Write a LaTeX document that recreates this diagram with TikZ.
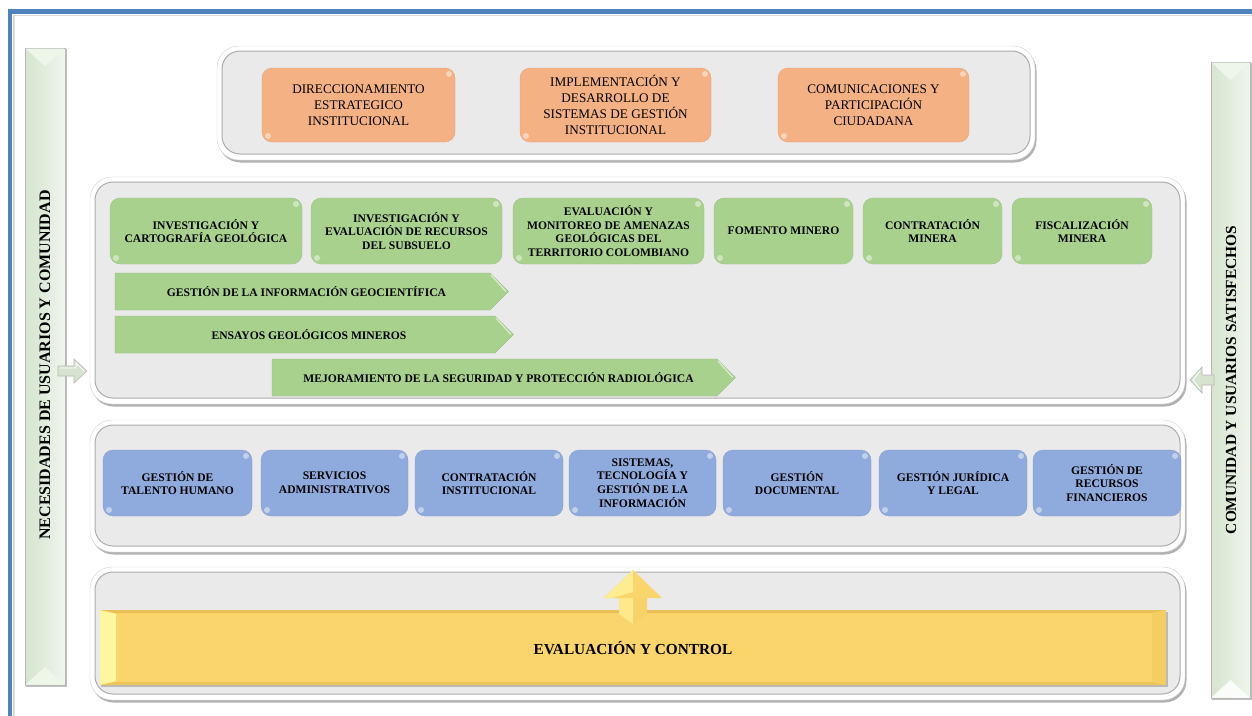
\documentclass[tikz,border=0pt]{standalone}
\usepackage{fontspec}
\setmainfont{Liberation Serif}
\usetikzlibrary{calc}

\definecolor{frameblue}{HTML}{4F81BD}
\definecolor{panelgray}{HTML}{EAEAEA}
\definecolor{orangebox}{HTML}{F4B183}
\definecolor{greenbox}{HTML}{A9D18E}
\definecolor{bluebox}{HTML}{8FAADC}
\definecolor{yellowbar}{HTML}{F9D56B}
\definecolor{yellowlight}{HTML}{FFF6A0}
\definecolor{yellowdark}{HTML}{E8C055}
\definecolor{sidegreen}{HTML}{D6E4CF}
\definecolor{sidegreenlight}{HTML}{EEF6EA}

% rounded grey panel with a white rim and a soft shadow
\newcommand{\panelframe}[5]{%
  \fill[gray!60, rounded corners=22pt] (#2+1.5,#3+2.5) rectangle (#4+1.5,#5+2.5);
  \draw[gray!35, fill=white, rounded corners=22pt] (#2,#3) rectangle (#4,#5);
  \draw[gray!65, line width=1pt, fill=panelgray, rounded corners=18pt] (#2+5,#3+5) rectangle (#4-5,#5-6);
  \coordinate (#1) at ($(#2,#3)!0.5!(#4,#5)$);
}

% pentagon arrow band with its label
\newcommand{\band}[6]{% name, x1, y1, x2 (shoulder), y2, text
  \path[fill=greenbox, draw=greenbox!85!black, line width=0.3pt]
    (#2,#3) -- (#4,#3) -- (#4+18.5,{(#3+#5)/2}) -- (#4,#5) -- (#2,#5) -- cycle;
  \draw[white, opacity=0.55, line width=1.4pt] (#4+1,#3+2) -- (#4+16,{(#3+#5)/2});
  \node[bandtext] (#1) at ({(#2+#4)/2+4},{(#3+#5)/2}) {#6};
}

\tikzset{
  gloss/.style={path picture={
      \fill[white, opacity=0.45] ($(path picture bounding box.north east)+(-6pt,-6pt)$) circle (3pt);
      \fill[white, opacity=0.45] ($(path picture bounding box.south west)+(6pt,6pt)$) circle (3pt);
    }},
  procbox/.style={rounded corners=10pt, align=center, inner sep=2pt, gloss,
    font=\bfseries\fontsize{11.6}{13.8}\selectfont},
  obox/.style={procbox, fill=orangebox, draw=orangebox!90!black, line width=0.3pt,
    font=\fontsize{13.2}{16}\selectfont, minimum height=74pt},
  gbox/.style={procbox, fill=greenbox, draw=greenbox!90!black, line width=0.3pt, minimum height=66pt},
  bbox/.style={procbox, fill=bluebox, draw=bluebox!90!black, line width=0.3pt, minimum height=66pt},
  bandtext/.style={font=\bfseries\fontsize{11.6}{13}\selectfont, inner sep=0pt},
  sidetext/.style={rotate=90, font=\bfseries\fontsize{16}{18}\selectfont},
}

\begin{document}
\begin{tikzpicture}[x=1pt, y=-1pt]
\useasboundingbox (0,0) rectangle (1252,715);
\fill[white] (0,0) rectangle (1252,715);

% page frame
\draw[gray!30, line width=1.5pt] (14,720) -- (14,15.5) -- (1260,15.5);
\draw[frameblue, line width=4.5pt] (10,720) -- (10,11.5) -- (1260,11.5);

% side bars
\fill[gray!50] (26,49) rectangle (67,687);
\shade[left color=sidegreen, right color=sidegreenlight, draw=gray!55] (25,48) rectangle (65,685);
\fill[sidegreenlight] (25.5,48.5) -- (64.5,48.5) -- (45,66) -- cycle;
\fill[sidegreenlight] (25.5,684.5) -- (64.5,684.5) -- (45,667) -- cycle;
\node[sidetext] (needs) at (45,365) {NECESIDADES DE USUARIOS Y COMUNIDAD};

\fill[gray!50] (1212,63) rectangle (1252,700);
\shade[left color=sidegreen, right color=sidegreenlight, draw=gray!55] (1211,62) rectangle (1250,698);
\fill[sidegreenlight] (1211.5,62.5) -- (1249.5,62.5) -- (1230.5,80) -- cycle;
\fill[white!70!sidegreenlight] (1211.5,697.5) -- (1249.5,697.5) -- (1230.5,680) -- cycle;
\node[sidetext, font=\bfseries\fontsize{15.4}{18}\selectfont] (satisfied) at (1231,380) {COMUNIDAD Y USUARIOS SATISFECHOS};

% panels
\panelframe{strategic}{217}{46}{1035}{160}
\panelframe{mission}{90}{177}{1185}{404}
\panelframe{support}{90}{420}{1185}{552}
\panelframe{control}{90}{567}{1185}{700}

% flow arrows at the sides
\draw[gray!55, fill=sidegreen, line width=0.6pt]
  (58,366) -- (74,366) -- (74,359) -- (87,371) -- (74,383) -- (74,376) -- (58,376) -- cycle;
\draw[white, line width=0.8pt] (60,368) -- (76,368) -- (76,363) -- (84,371);
\draw[gray!55, fill=sidegreen, line width=0.6pt]
  (1214,375) -- (1202,375) -- (1202,367) -- (1190,380) -- (1202,393) -- (1202,385) -- (1214,385) -- cycle;
\draw[white, line width=0.8pt] (1200,371) -- (1193,380) -- (1200,389);

% strategic processes
\node[obox, minimum width=193pt] (dir) at (358.5,105) {DIRECCIONAMIENTO\\ESTRATEGICO\\INSTITUCIONAL};
\node[obox, minimum width=191pt] (impl) at (615.5,105) {IMPLEMENTACIÓN Y\\DESARROLLO DE\\SISTEMAS DE GESTIÓN\\INSTITUCIONAL};
\node[obox, minimum width=191pt] (com) at (873.5,105) {COMUNICACIONES Y\\PARTICIPACIÓN\\CIUDADANA};

% mission processes
\node[gbox, minimum width=192pt] (carto) at (206,231) {INVESTIGACIÓN Y\\CARTOGRAFÍA GEOLÓGICA};
\node[gbox, minimum width=191pt] (recursos) at (406.5,231) {INVESTIGACIÓN Y\\EVALUACIÓN DE RECURSOS\\DEL SUBSUELO};
\node[gbox, minimum width=191pt] (amenazas) at (608.5,231) {EVALUACIÓN Y\\MONITOREO DE AMENAZAS\\GEOLÓGICAS DEL\\TERRITORIO COLOMBIANO};
\node[gbox, minimum width=139pt] (fomento) at (783.5,231) {FOMENTO MINERO};
\node[gbox, minimum width=139pt] (contratmin) at (932.5,231) {CONTRATACIÓN\\MINERA};
\node[gbox, minimum width=140pt] (fiscal) at (1082,231) {FISCALIZACIÓN\\MINERA};

\band{geoinfo}{115}{273}{490}{310}{GESTIÓN DE LA INFORMACIÓN GEOCIENTÍFICA}
\band{ensayos}{115}{316}{495}{353}{ENSAYOS GEOLÓGICOS MINEROS}
\band{radio}{272}{359}{717}{396}{MEJORAMIENTO DE LA SEGURIDAD Y PROTECCIÓN RADIOLÓGICA}

% support processes
\node[bbox, minimum width=149pt] (talento) at (177.5,483) {GESTIÓN DE\\TALENTO HUMANO};
\node[bbox, minimum width=147pt] (servicios) at (334.5,483) {SERVICIOS\\ADMINISTRATIVOS};
\node[bbox, minimum width=148pt] (contratinst) at (489,483) {CONTRATACIÓN\\INSTITUCIONAL};
\node[bbox, minimum width=147pt] (sistemas) at (642.5,483) {SISTEMAS,\\TECNOLOGÍA Y\\GESTIÓN DE LA\\INFORMACIÓN};
\node[bbox, minimum width=148pt] (documental) at (797,483) {GESTIÓN\\DOCUMENTAL};
\node[bbox, minimum width=148pt] (juridica) at (953,483) {GESTIÓN JURÍDICA\\Y LEGAL};
\node[bbox, minimum width=148pt] (financieros) at (1107,483) {GESTIÓN DE\\RECURSOS\\FINANCIEROS};

% evaluation and control bar with bevelled edges
\fill[gray!55] (101,611.5) rectangle (1168,687);
\fill[yellowbar] (100,610) rectangle (1166,685);
\fill[yellowlight] (100,610) -- (116,614) -- (116,681) -- (100,685) -- cycle;
\fill[yellowdark!35!yellowbar] (1166,610) -- (1152,614) -- (1152,681) -- (1166,685) -- cycle;
\fill[yellowdark] (100,610) -- (1166,610) -- (1152,613) -- (116,613) -- cycle;
\fill[yellowdark!80!yellowbar] (100,685) -- (1166,685) -- (1152,682) -- (116,682) -- cycle;
\node[font=\bfseries\fontsize{15.3}{18}\selectfont] (evaluacion) at (633,648) {EVALUACIÓN Y CONTROL};

% upward arrow from the control bar
\fill[yellowbar!85!yellowdark] (619,596) -- (647,596) -- (647,614) -- (633,624) -- (619,614) -- cycle;
\fill[yellowlight!60!yellowbar] (619,596) -- (633,596) -- (633,624) -- (619,614) -- cycle;
\fill[yellowbar] (604,598) -- (633,570) -- (662,598) -- cycle;
\fill[yellowlight!70!yellowbar] (604,598) -- (633,570) -- (633,592) -- (612,598) -- cycle;
\end{tikzpicture}
\end{document}
